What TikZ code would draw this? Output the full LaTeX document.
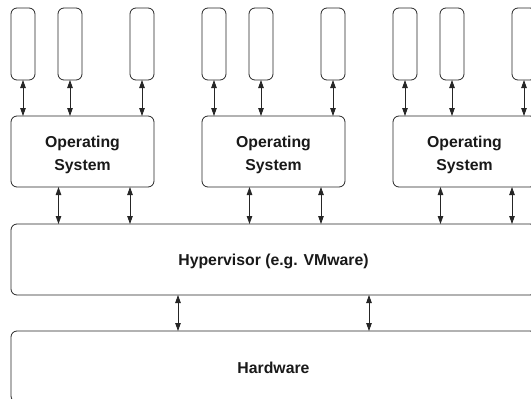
\documentclass[tikz,border=0pt]{standalone}
\usepackage{fontspec}
\setmainfont{Liberation Sans}
\usetikzlibrary{arrows.meta}
\begin{document}
\begin{tikzpicture}[x=1pt,y=-1pt,
  line width=0.8pt,
  every node/.style={inner sep=0pt, outer sep=0pt},
  app/.style={draw=black!85, rounded corners=6pt, minimum width=24pt, minimum height=72pt},
  osbox/.style={draw=black!85, rounded corners=6pt, minimum width=143pt, minimum height=71pt,
    align=center, font=\fontsize{15.8}{22.3}\selectfont\bfseries, text=black!90},
  layer/.style={draw=black!85, rounded corners=6pt, minimum width=525pt, minimum height=71pt,
    font=\fontsize{15.8}{22.3}\selectfont\bfseries, text=black!90},
  link/.style={draw=black!85, {Triangle[length=8pt,width=5.5pt]}-{Triangle[length=8pt,width=5.5pt]}}
]
\clip (0,0) rectangle (531,399);
\foreach \g/\gx in {1/11,2/202,3/393}{
  \node[app] (a\g a) at (\gx+12,44) {};
  \node[app] (a\g b) at (\gx+59,44) {};
  \node[app] (a\g c) at (\gx+131,44) {};
  \node[osbox] (os\g) at (\gx+71.5,151.5) {\rule{0pt}{18pt}Operating\\System};
}
\node[layer] (hyp) at (273.5,259.5) {\rule{0pt}{16pt}Hypervisor (e.g. VMware)};
\node[layer] (hw) at (273.5,366.5) {\rule{0pt}{13.6pt}Hardware};
\foreach \g in {1,2,3}{
  \foreach \k in {a,b,c}{
    \draw[link] (a\g\k.south) -- (a\g\k.south |- os\g.north);
  }
  \draw[link] ([xshift=47.5pt]os\g.south west) -- ([xshift=47.5pt]os\g.south west |- hyp.north);
  \draw[link] ([xshift=119pt]os\g.south west) -- ([xshift=119pt]os\g.south west |- hyp.north);
}
\draw[link] ([xshift=-95.5pt]hyp.south) -- ([xshift=-95.5pt]hw.north);
\draw[link] ([xshift=95.5pt]hyp.south) -- ([xshift=95.5pt]hw.north);
\end{tikzpicture}
\end{document}
